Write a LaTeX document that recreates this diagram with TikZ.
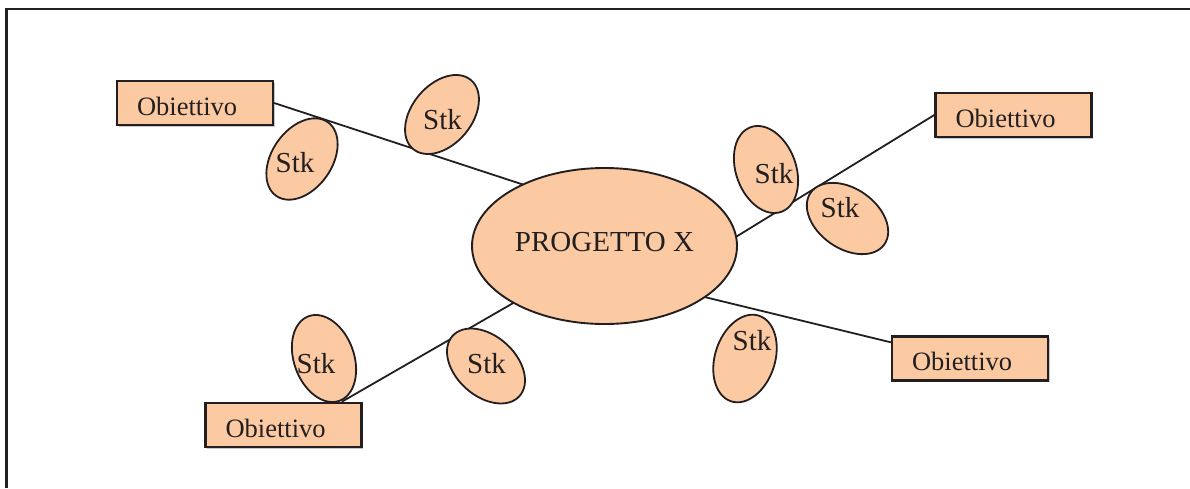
\documentclass[tikz,border=0pt]{standalone}
\usepackage{fontspec}
\setmainfont{Liberation Serif}
\usetikzlibrary{shapes.geometric,shadows}
\definecolor{peach}{RGB}{252,202,162}
\definecolor{ink}{RGB}{35,31,32}
\begin{document}
\begin{tikzpicture}[x=1pt,y=1pt,
  link/.style={draw=ink, line width=1.8pt},
  objbox/.style={draw=ink, line width=2.4pt, fill=peach,
    inner xsep=20pt, inner ysep=0pt, minimum height=44pt,
    text width=116pt, align=left, text height=24pt, text depth=0pt,
    text=ink, font=\fontsize{26.5}{30}\selectfont,
    drop shadow={shadow xshift=1.5pt, shadow yshift=-1.5pt, fill=black!22, opacity=1}},
  hub/.style={ellipse, draw=ink, line width=1.9pt, fill=peach,
    minimum width=265pt, minimum height=156pt, inner sep=0pt, outer sep=0pt,
    text height=10pt, text depth=0pt, text=ink, font=\fontsize{29}{32}\selectfont},
  stkshape/.style={draw=ink, line width=1.8pt, fill=peach},
  stklabel/.style={inner sep=0pt, anchor=base, text=ink, font=\fontsize{29}{32}\selectfont},
]
\useasboundingbox (0,0) rectangle (1190,-488);

% frame
\draw[ink, line width=2.3pt] (6.5,-488) -- (6.5,-9) -- (1190,-9);

% central project
\node[hub] (prog) at (604.5,-246) {PROGETTO X};

% objectives
\node[objbox] (o1) at (195,-103)    {Obiettivo};
\node[objbox] (o2) at (1013.5,-115) {Obiettivo};
\node[objbox] (o3) at (283.5,-425)  {Obiettivo};
\node[objbox] (o4) at (970,-358.5)  {Obiettivo};

% branches
\draw[link] (o1.east) -- (prog.143.5);
\draw[link] (prog.4.7) -- (o2.west);
\draw[link] (prog.212.8) -- ([xshift=-21pt]o3.north east);
\draw[link] (prog.333.8) -- ([yshift=-7pt]o4.north west);

% stakeholders
\path[stkshape] (302,-159)   ellipse [x radius=30pt, y radius=45pt, rotate=-35];
\path[stkshape] (442,-114.5) ellipse [x radius=30pt, y radius=45pt, rotate=-40];
\path[stkshape] (766,-169.5) ellipse [x radius=30pt, y radius=45pt, rotate=20];
\path[stkshape] (847.5,-218.5) ellipse [x radius=30pt, y radius=45pt, rotate=55];
\path[stkshape] (324,-358.5) ellipse [x radius=30pt, y radius=45pt, rotate=20];
\path[stkshape] (486,-366)   ellipse [x radius=30pt, y radius=45pt, rotate=48];
\path[stkshape] (745,-358.5) ellipse [x radius=30pt, y radius=45pt, rotate=-18];

\node[stklabel] (s1) at (295,-172)   {Stk};
\node[stklabel] (s2) at (442.5,-129) {Stk};
\node[stklabel] (s3) at (774,-183)   {Stk};
\node[stklabel] (s4) at (840,-217)   {Stk};
\node[stklabel] (s5) at (316,-373)   {Stk};
\node[stklabel] (s6) at (486.5,-373) {Stk};
\node[stklabel] (s7) at (752,-350)   {Stk};
\end{tikzpicture}
\end{document}
